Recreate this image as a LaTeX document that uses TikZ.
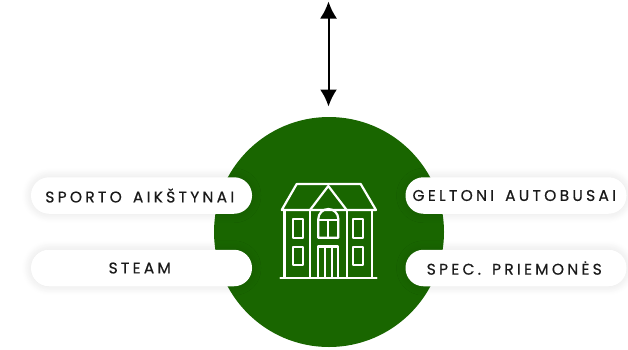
\documentclass[tikz,border=0pt]{standalone}
\usepackage{fontspec}
\usepackage{xcolor}
\usepackage{tikz}
\usetikzlibrary{arrows.meta,shadows.blur}
\setmainfont[LetterSpace=21,WordSpace=1.5]{Poppins}
\definecolor{schoolgreen}{HTML}{196600}
\definecolor{pilltext}{HTML}{1A1A1A}
\tikzstyle{pill}=[rectangle,rounded corners=18pt,fill=white,text=pilltext,minimum width=221pt,minimum height=36.5pt,inner sep=0pt,font=\fontsize{15.5}{17}\selectfont\addfontfeature{FakeBold=0.5},execute at end node={\hspace{3.5pt}},blur shadow={shadow blur steps=12,shadow xshift=0pt,shadow yshift=0pt,shadow blur radius=9pt,shadow opacity=12}]
\tikzstyle{house}=[draw=white,line width=2.2pt,line cap=round,line join=round]
\tikzstyle{link}=[draw=black,line width=2pt,{Latex[length=17pt,width=17pt]}-{Latex[length=17pt,width=17pt]}]

\begin{document}
\begin{tikzpicture}[x=1pt,y=-1pt]
        \useasboundingbox (0,0) rectangle (628,349);
        \node at (329,232) [circle,fill=schoolgreen,minimum size=230pt,inner sep=0pt] (school) {};
        \coordinate (top) at (328.5,1.5);
        \coordinate (bottom) at (328.5,106.5);
        \draw [link] (top) to (bottom);
        % pills
        \node at (141.5,195.5) [pill] (sport) {SPORTO AIKŠTYNAI};
        \node at (141.5,268) [pill] (steam) {STEAM};
        \node at (516,195.5) [pill] (bus) {GELTONI AUTOBUSAI};
        \node at (516,268) [pill] (spec) {SPEC. PRIEMONĖS};
        % house
        \draw [house] (280.5,277.7) -- (376.5,277.7);
        \draw [house] (281.7,210) -- (376,210) -- (360.7,184) -- (296.7,184) -- cycle;
        \draw [house] (310,210) -- (328.3,186) -- (346.7,210);
        \draw [house] (284.5,210) -- (284.5,277.7);
        \draw [house] (372,210) -- (372,277.7);
        \draw [house] (310,210) -- (310,277.7);
        \draw [house] (346.7,210) -- (346.7,277.7);
        \foreach \x in {293.3,353.3} {
          \draw [house] (\x,219) rectangle (\x+10,237.7);
          \draw [house] (\x,246.7) rectangle (\x+10,265);
        }
        \draw [house] (318.3,237.7) -- (318.3,219) arc (180:360:10) -- (338.3,237.7) -- cycle;
        \draw [house] (318.3,220) -- (338.3,220);
        \draw [house] (328.3,220) -- (328.3,237.7);
        \draw [house] (318.3,277.7) -- (318.3,246.5) -- (338.3,246.5) -- (338.3,277.7);
        \draw [house] (325,246.5) -- (325,277.7);
        \draw [house] (332,246.5) -- (332,277.7);
      \end{tikzpicture}
\end{document}
